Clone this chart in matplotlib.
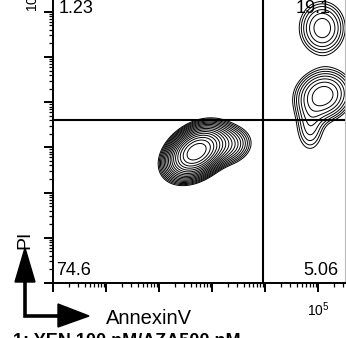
import numpy as np
import matplotlib
matplotlib.use("Agg")
import matplotlib.pyplot as plt
from matplotlib.patches import Polygon
from matplotlib.lines import Line2D
from matplotlib.ticker import FixedLocator, NullFormatter, FixedFormatter

plt.rcParams['font.family'] = ['Liberation Sans', 'DejaVu Sans']
plt.rcParams['mathtext.fontset'] = 'custom'
plt.rcParams['mathtext.rm'] = 'Liberation Sans'

# ---- data (log10 decades) ----
pop_names = ["live", "live_tail", "late_apop", "early_apop_core", "early_apop_tail"]
pop_x = [2.70, 3.20, 5.08, 5.10, 4.85]
pop_y = [1.90, 2.05, 4.64, 3.15, 2.45]
pop_sx = [0.24, 0.26, 0.25, 0.28, 0.17]
pop_sy = [0.25, 0.22, 0.34, 0.30, 0.36]
pop_rho = [0.35, 0.10, 0.0, 0.10, 0.0]
pop_w = [1.00, 0.10, 0.080, 0.135, 0.03]

quad_labels = ["1.23", "19.1", "74.6", "5.06"]
gate_x = 10 ** 3.962
gate_y = 10 ** 2.606
x_label = "AnnexinV"
y_label = "PI"
title = "1: YEN 100 nM/AZA500 nM"

W, H = 346, 338
fig = plt.figure(figsize=(W / 100, H / 100), dpi=100)
x_dec_px = 53.0
y_dec_px = 45.2
ax_left, ax_right = 53, 345
ax_bottom = 283
y_lo, y_hi = -1.0, 5.5
ax_h = (y_hi - y_lo) * y_dec_px
ax = fig.add_axes([ax_left / W, (H - ax_bottom) / H, (ax_right - ax_left) / W, ax_h / H])
x_hi = (ax_right - ax_left) / x_dec_px

# density grid
gx = np.linspace(-0.2, 5.8, 500)
gy = np.linspace(-1.2, 5.8, 500)
GX, GY = np.meshgrid(gx, gy)
Z = np.zeros_like(GX)
for mx, my, sx, sy, r, w in zip(pop_x, pop_y, pop_sx, pop_sy, pop_rho, pop_w):
    dx = (GX - mx) / sx
    dy = (GY - my) / sy
    q = (dx ** 2 - 2 * r * dx * dy + dy ** 2) / (1 - r ** 2)
    Z += w / (sx * sy * np.sqrt(1 - r ** 2)) * np.exp(-q / 2)
Z /= Z.max()
levels = 1.3 ** (-np.arange(17, 0, -1))
ax.contour(10 ** GX, 10 ** GY, Z, levels=levels, colors='black', linewidths=0.7)

ax.set_xscale('log')
ax.set_yscale('log')
ax.set_xlim(10 ** 0, 10 ** x_hi)
ax.set_ylim(10 ** y_lo, 10 ** y_hi)

ax.axvline(gate_x, color='black', lw=1.5)
ax.axhline(gate_y, color='black', lw=1.5)

ax.spines['top'].set_visible(False)
ax.spines['right'].set_color('#bbbbbb')
ax.spines['right'].set_linewidth(0.8)
ax.spines['left'].set_linewidth(1.4)
ax.spines['bottom'].set_linewidth(1.4)

xmaj = [10.0 ** k for k in range(0, 6)]
ymaj = [10.0 ** k for k in range(-1, 6)]
xmin = [m * 10.0 ** k for k in range(0, 6) for m in range(2, 10)]
ymin = [m * 10.0 ** k for k in range(-1, 6) for m in range(2, 10)]
ax.xaxis.set_major_locator(FixedLocator(xmaj))
ax.yaxis.set_major_locator(FixedLocator(ymaj))
ax.xaxis.set_minor_locator(FixedLocator(xmin))
ax.yaxis.set_minor_locator(FixedLocator(ymin))
ax.xaxis.set_minor_formatter(NullFormatter())
ax.yaxis.set_minor_formatter(NullFormatter())
ax.xaxis.set_major_formatter(FixedFormatter(['', '', '', '', '', r'$\mathregular{10^5}$']))
ax.yaxis.set_major_formatter(FixedFormatter(['', '', '', '', '', '', r'$\mathregular{10^5}$']))
ax.tick_params(which='major', direction='out', length=6.5, width=1.4, labelsize=10)
ax.tick_params(which='minor', direction='out', length=3, width=0.9)
ax.tick_params(axis='x', which='major', pad=6)
ax.tick_params(axis='y', which='major', pad=2)
for lab in ax.get_yticklabels():
    lab.set_rotation(90)
    lab.set_va('bottom')

def fx(px):
    return px / W

def fy(py):
    return 1 - py / H

fs = 13
fig.text(fx(59), fy(13), quad_labels[0], fontsize=fs, ha='left', va='baseline')
fig.text(fx(331), fy(13), quad_labels[1], fontsize=fs, ha='right', va='baseline')
fig.text(fx(56), fy(275), quad_labels[2], fontsize=fs, ha='left', va='baseline')
fig.text(fx(338), fy(275), quad_labels[3], fontsize=fs, ha='right', va='baseline')

fig.text(fx(106), fy(324), x_label, fontsize=14.5, ha='left', va='baseline')
fig.text(fx(33), fy(240), y_label, fontsize=14, rotation=90, ha='right', va='center')
fig.text(fx(13), fy(346), title, fontsize=13, fontweight='bold', ha='left', va='baseline')

# arrows
fig.add_artist(Line2D([fx(25), fx(25), fx(60)], [fy(280), fy(316), fy(316)],
                      color='black', lw=2.6, solid_joinstyle='miter'))
fig.add_artist(Polygon([[fx(15), fy(282)], [fx(35), fy(282)], [fx(25), fy(248)]],
                       closed=True, color='black', transform=fig.transFigure))
fig.add_artist(Polygon([[fx(58), fy(304)], [fx(58), fy(327)], [fx(89), fy(316)]],
                       closed=True, color='black', transform=fig.transFigure))

fig.savefig('out.png', dpi=100)
